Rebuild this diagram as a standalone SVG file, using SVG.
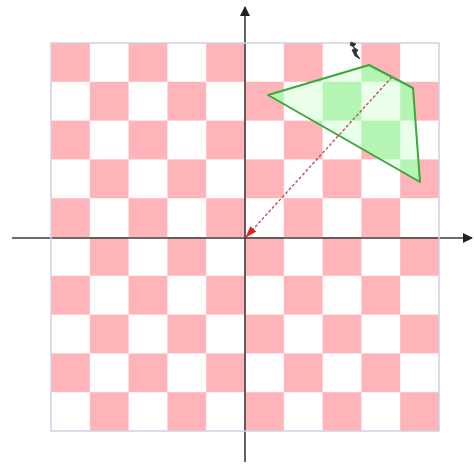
<svg xmlns="http://www.w3.org/2000/svg" width="474" height="470" viewBox="0 0 474 470">
<style>
.axis{stroke:#3a3a3a;stroke-width:1.6;fill:none}
.poly{stroke:#3aa83a;stroke-width:2;stroke-linejoin:round}
.vec{stroke:#c0505a;stroke-width:1.4;stroke-dasharray:3 2;fill:none}
</style>
<defs>
<pattern id="pink" patternUnits="userSpaceOnUse" x="51" y="43" width="77.6" height="77.6">
<rect width="77.6" height="77.6" fill="#ffffff"/>
<rect width="38.8" height="38.8" fill="#ffb4b9"/>
<rect x="38.8" y="38.8" width="38.8" height="38.8" fill="#ffb4b9"/>
</pattern>
<pattern id="green" patternUnits="userSpaceOnUse" x="51" y="43" width="77.6" height="77.6">
<rect width="77.6" height="77.6" fill="#eaffea"/>
<rect width="38.8" height="38.8" fill="#b4f5b4"/>
<rect x="38.8" y="38.8" width="38.8" height="38.8" fill="#b4f5b4"/>
</pattern>
<marker id="ah" markerWidth="10" markerHeight="10" refX="9" refY="5" orient="auto" markerUnits="userSpaceOnUse">
<path d="M0,0 L10,5 L0,10 z" fill="#222"/>
</marker>
<marker id="rh" markerWidth="12" markerHeight="10" refX="11" refY="5" orient="auto" markerUnits="userSpaceOnUse">
<path d="M0,1 L12,5 L0,9 z" fill="#e02020"/>
</marker>
</defs>
<rect width="474" height="470" fill="#ffffff"/>
<g id="board">
<rect x="51" y="43" width="388" height="388" fill="url(#pink)"/>
</g>
<g id="shape">
<polygon points="268,95 369,65 413,88 420,182" fill="url(#green)"/>
<polygon class="poly" points="268,95 369,65 413,88 420,182" fill="none"/>
</g>
<g id="axes">
<line class="axis" x1="12" y1="238" x2="472" y2="238" marker-end="url(#ah)"/>
<line class="axis" x1="245" y1="462" x2="245" y2="7" marker-end="url(#ah)"/>
</g>
<rect x="51" y="43" width="388" height="388" fill="none" stroke="#d2cfe2" stroke-width="1.5"/>
<g id="connectors">
<line class="vec" x1="392" y1="77" x2="246" y2="237" marker-end="url(#rh)"/>
</g>
<g id="cursor">
<path d="M351,42 L356,44 L353,47 L358,50 L356,53 L360,59 L355,56 L352,50 L355,48 L350,45 z" fill="#333" stroke="#333" stroke-width="0.8"/>
</g>
</svg>
